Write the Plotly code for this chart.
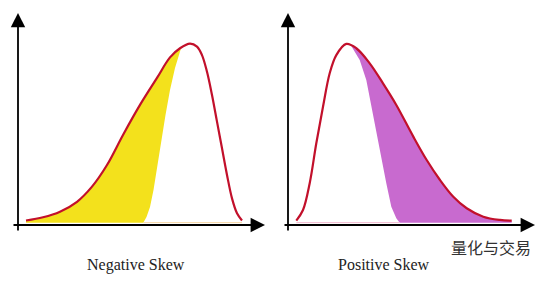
import plotly.graph_objects as go

# ---- data (arbitrary units: x along horizontal axis, y = density) ----
neg_x = [0.40, 1.25, 2.10, 2.95, 3.70, 4.45, 5.25, 6.10, 6.95, 7.60, 8.10, 8.60, 8.95, 9.20, 9.45, 9.70, 9.95, 10.20, 10.45, 10.70, 10.95, 11.20]
neg_y = [0.025, 0.043, 0.074, 0.129, 0.213, 0.333, 0.500, 0.667, 0.817, 0.931, 0.982, 1.008, 0.991, 0.944, 0.851, 0.722, 0.574, 0.426, 0.278, 0.148, 0.065, 0.025]
neg_edge_x = [8.15, 7.85, 7.60, 7.375, 7.175, 6.975, 6.775, 6.60, 6.425, 6.265]
neg_edge_y = [0.982, 0.872, 0.750, 0.611, 0.472, 0.333, 0.194, 0.100, 0.044, 0.013]

pos_x = [0.415, 0.75, 1.085, 1.415, 1.75, 2.085, 2.415, 2.915, 3.415, 4.085, 4.75, 5.415, 6.265, 6.935, 7.60, 8.265, 8.935, 9.765, 10.60, 11.185]
pos_y = [0.024, 0.083, 0.232, 0.454, 0.657, 0.843, 0.944, 1.006, 0.982, 0.898, 0.787, 0.667, 0.491, 0.361, 0.250, 0.157, 0.093, 0.046, 0.028, 0.024]
pos_edge_x = [3.165, 3.585, 3.915, 4.165, 4.415, 4.665, 4.915, 5.165, 5.415, 5.585]
pos_edge_y = [0.994, 0.917, 0.806, 0.657, 0.528, 0.380, 0.232, 0.102, 0.037, 0.013]

base_y = 0.013
titles = ["Negative Skew", "Positive Skew"]
watermark = "量化与交易"

RED = "#C2102B"
YELLOW = "#F3E11C"
PINK = "#C86ACF"

fig = go.Figure()

# --- left panel: yellow fill (left of edge) ---
lx = [x for x in neg_x if x < neg_edge_x[0]]
ly = neg_y[:len(lx)]
fx = lx + neg_edge_x + [neg_x[0]]
fy = ly + neg_edge_y + [base_y]
fig.add_trace(go.Scatter(x=fx, y=fy, fill="toself", fillcolor=YELLOW, mode="lines",
                         line=dict(width=0), hoverinfo="skip", xaxis="x", yaxis="y"))
fig.add_trace(go.Scatter(x=[neg_edge_x[-1], neg_x[-1]], y=[base_y, base_y], mode="lines",
                         line=dict(color="#F6D6A4", width=1), xaxis="x", yaxis="y"))
fig.add_trace(go.Scatter(x=neg_x, y=neg_y, mode="lines", line=dict(color=RED, width=2.2, shape="spline"),
                         xaxis="x", yaxis="y"))

# --- right panel: pink fill (right of edge) ---
rx = [x for x in pos_x if x > pos_edge_x[0]]
ry = pos_y[len(pos_x) - len(rx):]
px_ = [pos_edge_x[0]] + rx + [pos_x[-1]] + pos_edge_x[::-1]
py_ = [pos_edge_y[0]] + ry + [base_y] + pos_edge_y[::-1]
fig.add_trace(go.Scatter(x=px_, y=py_, fill="toself", fillcolor=PINK, mode="lines",
                         line=dict(width=0), hoverinfo="skip", xaxis="x2", yaxis="y2"))
fig.add_trace(go.Scatter(x=[pos_x[0], pos_edge_x[-1]], y=[base_y, base_y], mode="lines",
                         line=dict(color="#F2B8CF", width=1), xaxis="x2", yaxis="y2"))
fig.add_trace(go.Scatter(x=pos_x, y=pos_y, mode="lines", line=dict(color=RED, width=2.2, shape="spline"),
                         xaxis="x2", yaxis="y2"))

# axis arrows
x_tail = [-0.3, -0.25]
x_tip = 12.35
y_tail = -0.039
y_tip = 1.178
ann = []
for i, (xr, yr) in enumerate([("x", "y"), ("x2", "y2")]):
    ann.append(dict(x=x_tip, y=0, ax=x_tail[i], ay=0, xref=xr, yref=yr, axref=xr, ayref=yr,
                    showarrow=True, arrowhead=2, arrowsize=1.6, arrowwidth=1.8, arrowcolor="#000", text=""))
    ann.append(dict(x=0, y=y_tip, ax=0, ay=y_tail, xref=xr, yref=yr, axref=xr, ayref=yr,
                    showarrow=True, arrowhead=2, arrowsize=1.6, arrowwidth=1.8, arrowcolor="#000", text=""))

ann.append(dict(x=5.9, y=-0.222, xref="x", yref="y", text=titles[0], showarrow=False,
                font=dict(family="Liberation Serif", size=16, color="#222")))
ann.append(dict(x=4.8, y=-0.222, xref="x2", yref="y2", text=titles[1], showarrow=False,
                font=dict(family="Liberation Serif", size=16, color="#222")))
ann.append(dict(x=10.15, y=-0.122, xref="x2", yref="y2", text=watermark, showarrow=False,
                font=dict(family="Noto Sans CJK SC", size=16, color="#333")))

fig.update_layout(
    width=560, height=286, margin=dict(l=0, r=0, t=0, b=0),
    paper_bgcolor="white", plot_bgcolor="white", showlegend=False,
    xaxis=dict(domain=[0, 0.5], range=[-0.9, 13.1], visible=False, fixedrange=True),
    yaxis=dict(domain=[0, 1], range=[-0.339, 1.25], visible=False, fixedrange=True),
    xaxis2=dict(domain=[0.5, 1], range=[-0.4, 13.6], visible=False, fixedrange=True),
    yaxis2=dict(domain=[0, 1], range=[-0.339, 1.25], visible=False, fixedrange=True, anchor="x2"),
    annotations=ann,
)
fig.write_html("out.html")
